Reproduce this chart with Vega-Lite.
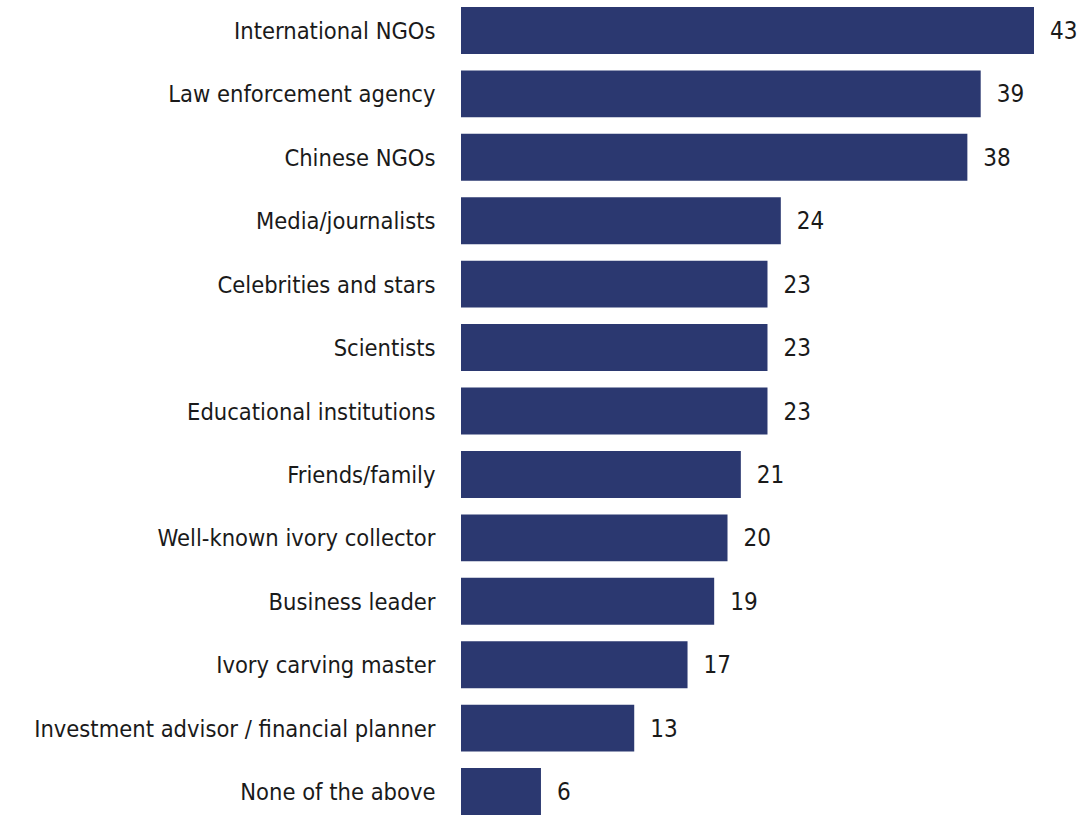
{
  "$schema": "https://vega.github.io/schema/vega-lite/v6.json",
  "width": 573,
  "height": 808,
  "autosize": {"type": "none"},
  "padding": {"left": 461, "top": 7, "right": 51, "bottom": 0},
  "background": "white",
  "config": {"view": {"stroke": null}, "font": "DejaVu Sans Condensed, sans-serif"},
  "data": {"values": [
    {"category": "International NGOs", "value": 43},
    {"category": "Law enforcement agency", "value": 39},
    {"category": "Chinese NGOs", "value": 38},
    {"category": "Media/journalists", "value": 24},
    {"category": "Celebrities and stars", "value": 23},
    {"category": "Scientists", "value": 23},
    {"category": "Educational institutions", "value": 23},
    {"category": "Friends/family", "value": 21},
    {"category": "Well-known ivory collector", "value": 20},
    {"category": "Business leader", "value": 19},
    {"category": "Ivory carving master", "value": 17},
    {"category": "Investment advisor / financial planner", "value": 13},
    {"category": "None of the above", "value": 6}
  ]},
  "encoding": {
    "y": {"field": "category", "type": "nominal", "sort": null,
      "scale": {"paddingInner": 0.26, "paddingOuter": 0},
      "axis": {"title": null, "domain": false, "ticks": false, "labelPadding": 26, "labelOffset": 1.5,
        "labelFontSize": 23.5, "labelFontWeight": "normal", "labelColor": "#1a1a1a", "labelFont": "DejaVu Sans Condensed, sans-serif", "labelLimit": 600}},
    "x": {"field": "value", "type": "quantitative",
      "scale": {"domain": [0, 43], "nice": false, "zero": true},
      "axis": null}
  },
  "layer": [
    {"mark": {"type": "bar", "color": "#2B3870"}},
    {"mark": {"type": "text", "align": "left", "baseline": "middle", "dx": 16, "dy": 1.5, "fontSize": 24, "color": "#1a1a1a", "font": "DejaVu Sans Condensed, sans-serif"},
     "encoding": {"text": {"field": "value", "type": "quantitative"}}}
  ]
}
